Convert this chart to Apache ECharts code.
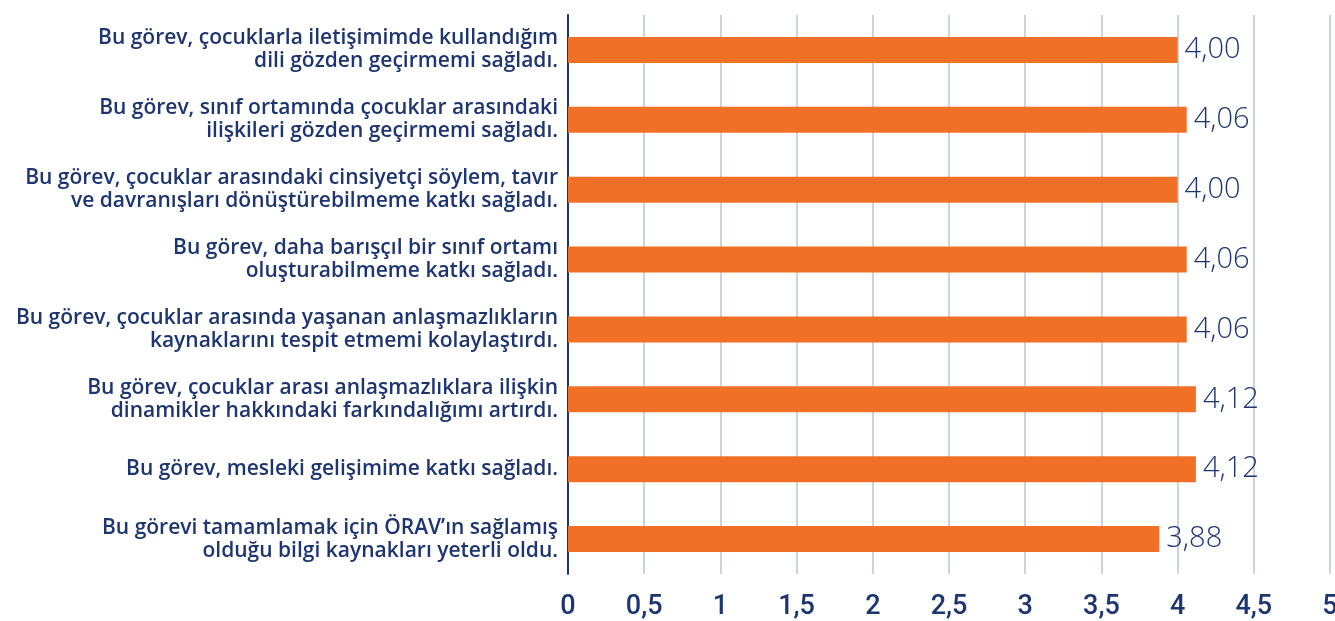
<!DOCTYPE html>
<html>
<head>
<meta charset="utf-8">
<script src="https://cdn.jsdelivr.net/npm/echarts@6/dist/echarts.min.js"></script>
<style>
  html, body { margin: 0; padding: 0; background: #fff; }
  #chart { width: 1335px; height: 621px; }
</style>
</head>
<body>
<div id="chart"></div>
<script>
// kategoriler (yukarıdan aşağıya)
const categories = [
  'Bu görev, çocuklarla iletişimimde kullandığım\ndili gözden geçirmemi sağladı.',
  'Bu görev, sınıf ortamında çocuklar arasındaki\nilişkileri gözden geçirmemi sağladı.',
  'Bu görev, çocuklar arasındaki cinsiyetçi söylem, tavır\nve davranışları dönüştürebilmeme katkı sağladı.',
  'Bu görev, daha barışçıl bir sınıf ortamı\noluşturabilmeme katkı sağladı.',
  'Bu görev, çocuklar arasında yaşanan anlaşmazlıkların\nkaynaklarını tespit etmemi kolaylaştırdı.',
  'Bu görev, çocuklar arası anlaşmazlıklara ilişkin\ndinamikler hakkındaki farkındalığımı artırdı.',
  'Bu görev, mesleki gelişimime katkı sağladı.',
  'Bu görevi tamamlamak için ÖRAV’ın sağlamış\nolduğu bilgi kaynakları yeterli oldu.'
];
const values = [4.00, 4.06, 4.00, 4.06, 4.06, 4.12, 4.12, 3.88];

const navy = '#1d3570';
const chart = echarts.init(document.getElementById('chart'));

chart.setOption({
  animation: false,
  grid: {
    left: 568,
    right: 5,
    top: 15,
    bottom: 47,
    containLabel: false,
    outerBoundsMode: 'none',
  },
  xAxis: {
    type: 'value',
    min: 0,
    max: 5,
    interval: 0.5,
    axisLine: { show: false },
    axisTick: { show: false },
    splitLine: { lineStyle: { color: '#bcc3d8', width: 1.5 } },
    axisLabel: {
      margin: 20,
      color: navy,
      fontSize: 27,
      fontWeight: 500,
      fontFamily: 'Roboto',
      formatter: v => String(v).replace('.', ','),
    },
  },
  yAxis: {
    type: 'category',
    inverse: true,
    data: categories,
    axisLine: { show: true, lineStyle: { color: navy, width: 2 } },
    axisTick: { show: false },
    axisLabel: {
      margin: 10,
      color: navy,
      fontSize: 21,
      fontWeight: 600,
      lineHeight: 23,
      fontFamily: 'Open Sans',
      align: 'right',
      padding: [0, 0, 6, 0],
    },
  },
  series: [{
    type: 'bar',
    data: values,
    barWidth: 26,
    itemStyle: { color: '#f07027' },
    label: {
      show: true,
      position: 'right',
      distance: 7,
      color: navy,
      fontSize: 29,
      fontWeight: 300,
      fontFamily: 'Open Sans',
      formatter: p => p.value.toFixed(2).replace('.', ','),
    },
  }],
});
</script>
</body>
</html>
